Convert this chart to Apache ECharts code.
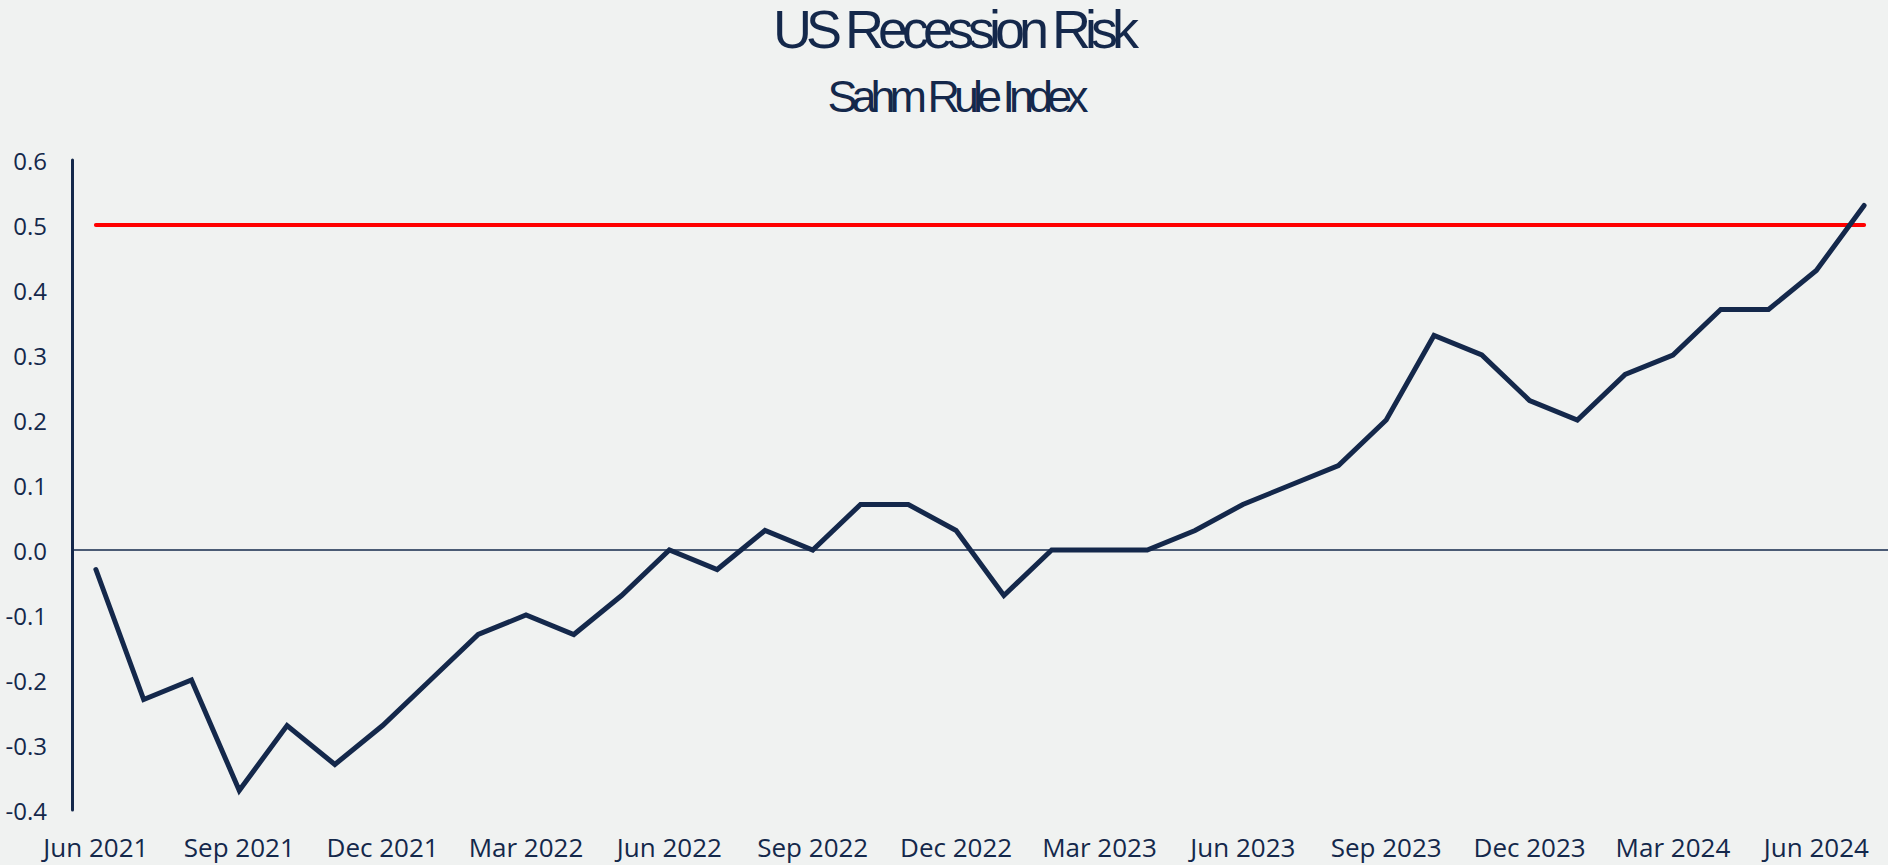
<!DOCTYPE html>
<html>
<head>
<meta charset="utf-8">
<script src="https://cdn.jsdelivr.net/npm/echarts@6/dist/echarts.min.js"></script>
<style>
  html, body { margin: 0; padding: 0; background: #f0f2f1; }
  #chart { width: 1888px; height: 865px; }
</style>
</head>
<body>
<div id="chart"></div>
<script>
// ---- Data ----
const months = [
  'Jun 2021','Jul 2021','Aug 2021','Sep 2021','Oct 2021','Nov 2021','Dec 2021',
  'Jan 2022','Feb 2022','Mar 2022','Apr 2022','May 2022','Jun 2022','Jul 2022','Aug 2022','Sep 2022','Oct 2022','Nov 2022','Dec 2022',
  'Jan 2023','Feb 2023','Mar 2023','Apr 2023','May 2023','Jun 2023','Jul 2023','Aug 2023','Sep 2023','Oct 2023','Nov 2023','Dec 2023',
  'Jan 2024','Feb 2024','Mar 2024','Apr 2024','May 2024','Jun 2024','Jul 2024'
];
const sahmValues = [
  -0.03, -0.23, -0.20, -0.37, -0.27, -0.33, -0.27,
  -0.20, -0.13, -0.10, -0.13, -0.07, 0.00, -0.03, 0.03, 0.00, 0.07, 0.07, 0.03,
  -0.07, 0.00, 0.00, 0.00, 0.03, 0.07, 0.10, 0.13, 0.20, 0.33, 0.30, 0.23,
  0.20, 0.27, 0.30, 0.37, 0.37, 0.43, 0.53
];
const thresholdValue = 0.5;
const thresholdValues = months.map(() => thresholdValue);
const titleText = 'US Recession Risk';
const subtitleText = 'Sahm Rule Index';

const navy = '#14284b';
const chart = echarts.init(document.getElementById('chart'), null, { renderer: 'svg' });

chart.setOption({
  backgroundColor: '#f0f2f1',
  animation: false,
  graphic: [
    {
      type: 'text', x: 953, y: 29, silent: true,
      style: { text: titleText, fill: navy, font: 'normal 54px "Liberation Sans"', textAlign: 'center', textVerticalAlign: 'middle' }
    },
    {
      type: 'text', x: 955, y: 96, silent: true,
      style: { text: subtitleText, fill: navy, font: 'normal 45px "Liberation Sans"', textAlign: 'center', textVerticalAlign: 'middle' }
    }
  ],
  grid: { left: 72, right: 0, top: 160, bottom: 55, containLabel: false },
  xAxis: {
    type: 'category',
    data: months,
    boundaryGap: true,
    axisLine: { show: false },
    axisTick: { show: false },
    splitLine: { show: false },
    axisLabel: {
      interval: 2,
      margin: 24,
      color: navy,
      fontSize: 26,
      fontFamily: '"Open Sans", "Noto Sans", sans-serif'
    }
  },
  yAxis: {
    type: 'value',
    min: -0.4,
    max: 0.6,
    interval: 0.1,
    axisLine: { show: true, lineStyle: { color: navy, width: 3 } },
    axisTick: { show: false },
    splitLine: { show: false },
    axisLabel: {
      margin: 25,
      color: navy,
      fontSize: 24,
      fontFamily: '"Open Sans", "Noto Sans", sans-serif',
      formatter: (v) => Number(v).toFixed(1)
    }
  },
  series: [
    {
      name: 'Threshold',
      type: 'line',
      data: thresholdValues,
      symbol: 'none',
      lineStyle: { color: '#ff0000', width: 4, cap: 'round' },
      silent: true,
      z: 2
    },
    {
      name: 'Sahm Rule Index',
      type: 'line',
      data: sahmValues,
      symbol: 'none',
      lineStyle: { color: navy, width: 5, cap: 'round', join: 'miter' },
      z: 3,
      markLine: {
        silent: true,
        symbol: 'none',
        label: { show: false },
        lineStyle: { color: navy, width: 1.5, type: 'solid' },
        data: [{ yAxis: 0 }],
        z: 1
      }
    }
  ]
});

// Condensed (negative letter-spacing) look of the title texts
function condenseTitles() {
  document.querySelectorAll('#chart text').forEach(function (t) {
    const s = t.textContent;
    if (s === titleText || s === subtitleText) {
      t.style.letterSpacing = '-6px';
    }
  });
}
condenseTitles();
chart.on('finished', condenseTitles);
</script>
</body>
</html>
